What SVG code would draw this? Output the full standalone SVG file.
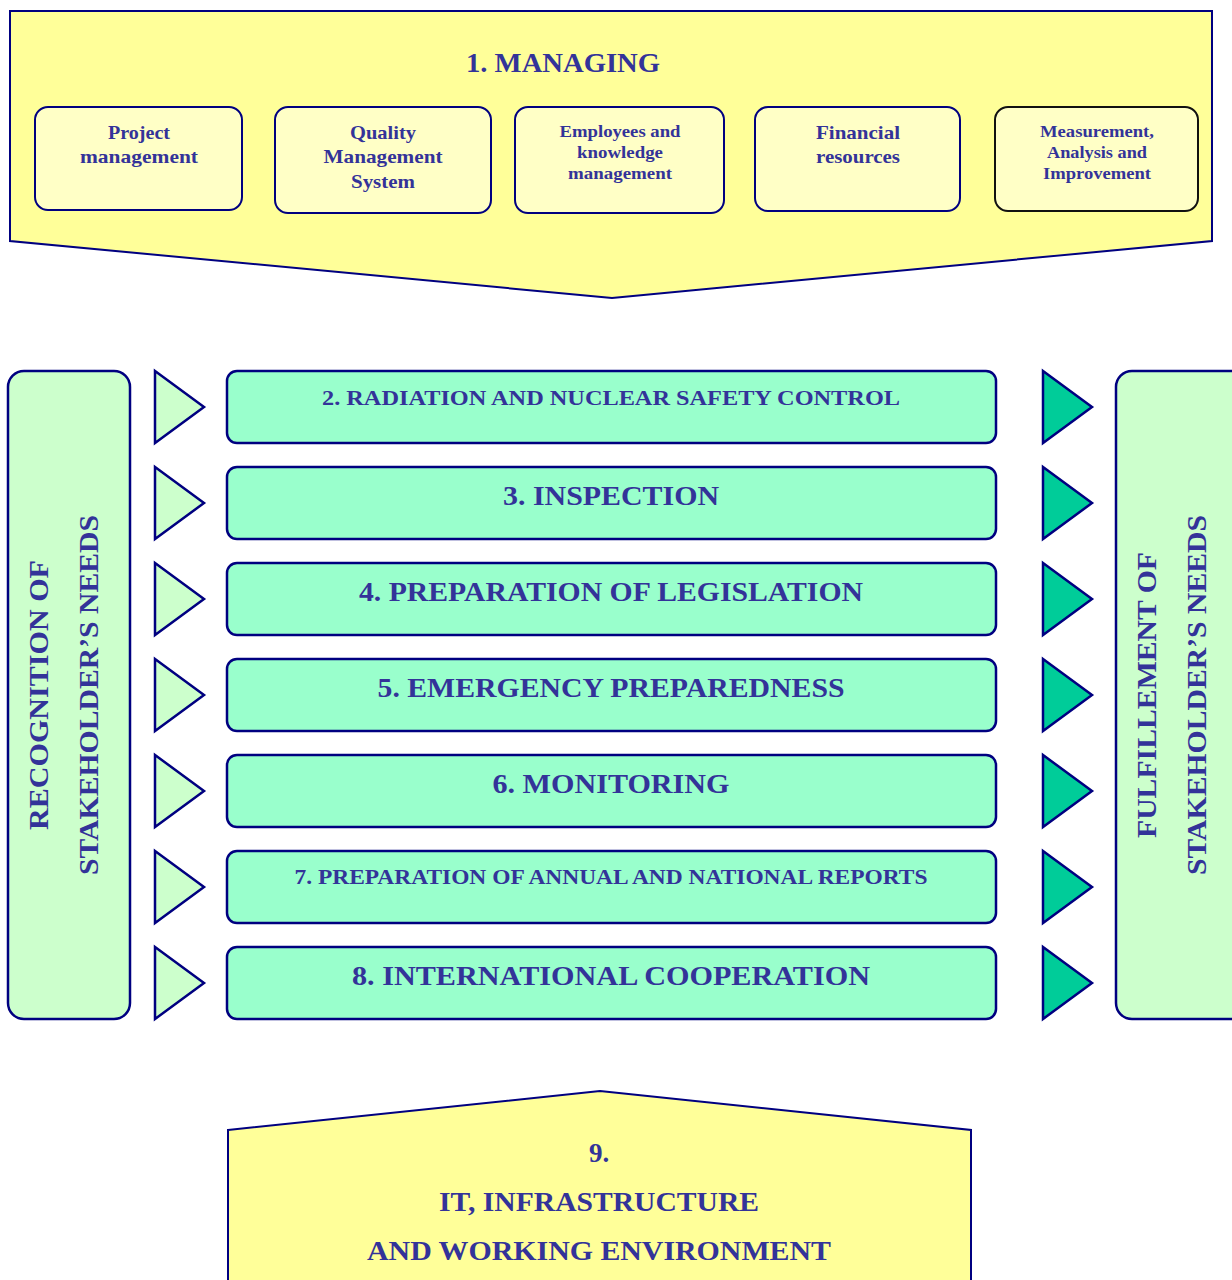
<svg xmlns="http://www.w3.org/2000/svg" width="1232" height="1280" viewBox="0 0 1232 1280">
<defs>
<style>
text{font-family:"Liberation Serif","Times New Roman",serif;font-weight:bold;fill:#333399;text-anchor:middle}
.big{stroke:#000080;stroke-width:2}
.sub{fill:#ffffc6;stroke:#000080;stroke-width:2}
.row{fill:#99ffcc;stroke:#000080;stroke-width:2.5}
.side{fill:#ccffcc;stroke:#000080;stroke-width:2.5}
.tl{fill:#ccffcc;stroke:#000080;stroke-width:2.5}
.tr{fill:#00cc99;stroke:#000080;stroke-width:2.5}
.s17{font-size:17px}.s19{font-size:19px}.s26{font-size:27px}
</style>
</defs>
<g id="managing">
<polygon class="big" fill="#ffff99" points="10,11 1212,11 1212,241 612,298 10,241"/>
<text x="563" y="72" class="s26" textLength="194" lengthAdjust="spacingAndGlyphs">1. MANAGING</text>
</g>
<g id="project-management">
<rect class="sub" x="35" y="107" width="207" height="103" rx="13"/>
<text x="139" y="139" class="s19" textLength="62" lengthAdjust="spacingAndGlyphs">Project</text>
<text x="139" y="163" class="s19" textLength="118" lengthAdjust="spacingAndGlyphs">management</text>
</g>
<g id="qms">
<rect class="sub" x="275" y="107" width="216" height="106" rx="13"/>
<text x="383" y="139" class="s19" textLength="66" lengthAdjust="spacingAndGlyphs">Quality</text>
<text x="383" y="163" class="s19" textLength="119" lengthAdjust="spacingAndGlyphs">Management</text>
<text x="383" y="188" class="s19" textLength="64" lengthAdjust="spacingAndGlyphs">System</text>
</g>
<g id="employees">
<rect class="sub" x="515" y="107" width="209" height="106" rx="13"/>
<text x="620" y="137" class="s17" textLength="121" lengthAdjust="spacingAndGlyphs">Employees and</text>
<text x="620" y="158" class="s17" textLength="86" lengthAdjust="spacingAndGlyphs">knowledge</text>
<text x="620" y="179" class="s17" textLength="104" lengthAdjust="spacingAndGlyphs">management</text>
</g>
<g id="financial">
<rect class="sub" x="755" y="107" width="205" height="104" rx="13"/>
<text x="858" y="139" class="s19" textLength="84" lengthAdjust="spacingAndGlyphs">Financial</text>
<text x="858" y="163" class="s19" textLength="84" lengthAdjust="spacingAndGlyphs">resources</text>
</g>
<g id="measurement">
<rect class="sub" x="995" y="107" width="203" height="104" rx="13" style="stroke:#111"/>
<text x="1097" y="137" class="s17" textLength="114" lengthAdjust="spacingAndGlyphs">Measurement,</text>
<text x="1097" y="158" class="s17" textLength="100" lengthAdjust="spacingAndGlyphs">Analysis and</text>
<text x="1097" y="179" class="s17" textLength="108" lengthAdjust="spacingAndGlyphs">Improvement</text>
</g>
<g id="recognition">
<rect class="side" x="8" y="371" width="122" height="648" rx="16"/>
<text class="s26" transform="translate(48,695) rotate(-90)" textLength="270" lengthAdjust="spacingAndGlyphs">RECOGNITION OF</text>
<text class="s26" transform="translate(98,695) rotate(-90)" textLength="360" lengthAdjust="spacingAndGlyphs">STAKEHOLDER’S NEEDS</text>
</g>
<g id="fulfillement">
<rect class="side" x="1116" y="371" width="130" height="648" rx="16"/>
<text class="s26" transform="translate(1156,695) rotate(-90)" textLength="286" lengthAdjust="spacingAndGlyphs">FULFILLEMENT OF</text>
<text class="s26" transform="translate(1206,695) rotate(-90)" textLength="360" lengthAdjust="spacingAndGlyphs">STAKEHOLDER’S NEEDS</text>
</g>
<g id="row2">
<rect class="row" x="227" y="371" width="769" height="72" rx="10"/>
<text x="611" y="405" style="font-size:21px" textLength="578" lengthAdjust="spacingAndGlyphs">2. RADIATION AND NUCLEAR SAFETY CONTROL</text>
</g>
<g id="row3">
<rect class="row" x="227" y="467" width="769" height="72" rx="10"/>
<text x="611" y="505" class="s26" textLength="216" lengthAdjust="spacingAndGlyphs">3. INSPECTION</text>
</g>
<g id="row4">
<rect class="row" x="227" y="563" width="769" height="72" rx="10"/>
<text x="611" y="601" class="s26" textLength="504" lengthAdjust="spacingAndGlyphs">4. PREPARATION OF LEGISLATION</text>
</g>
<g id="row5">
<rect class="row" x="227" y="659" width="769" height="72" rx="10"/>
<text x="611" y="697" class="s26" textLength="467" lengthAdjust="spacingAndGlyphs">5. EMERGENCY PREPAREDNESS</text>
</g>
<g id="row6">
<rect class="row" x="227" y="755" width="769" height="72" rx="10"/>
<text x="611" y="793" class="s26" textLength="237" lengthAdjust="spacingAndGlyphs">6. MONITORING</text>
</g>
<g id="row7">
<rect class="row" x="227" y="851" width="769" height="72" rx="10"/>
<text x="611" y="884" style="font-size:20px" textLength="633" lengthAdjust="spacingAndGlyphs">7. PREPARATION OF ANNUAL AND NATIONAL REPORTS</text>
</g>
<g id="row8">
<rect class="row" x="227" y="947" width="769" height="72" rx="10"/>
<text x="611" y="985" class="s26" textLength="518" lengthAdjust="spacingAndGlyphs">8. INTERNATIONAL COOPERATION</text>
</g>
<g id="connectors">
<polygon class="tl" points="155,371 204,407 155,443"/>
<polygon class="tl" points="155,467 204,503 155,539"/>
<polygon class="tl" points="155,563 204,599 155,635"/>
<polygon class="tl" points="155,659 204,695 155,731"/>
<polygon class="tl" points="155,755 204,791 155,827"/>
<polygon class="tl" points="155,851 204,887 155,923"/>
<polygon class="tl" points="155,947 204,983 155,1019"/>
<polygon class="tr" points="1043,371 1092,407 1043,443"/>
<polygon class="tr" points="1043,467 1092,503 1043,539"/>
<polygon class="tr" points="1043,563 1092,599 1043,635"/>
<polygon class="tr" points="1043,659 1092,695 1043,731"/>
<polygon class="tr" points="1043,755 1092,791 1043,827"/>
<polygon class="tr" points="1043,851 1092,887 1043,923"/>
<polygon class="tr" points="1043,947 1092,983 1043,1019"/>
</g>
<g id="it-infrastructure">
<polygon class="big" fill="#ffff99" points="228,1130 600,1091 971,1130 971,1290 228,1290"/>
<text x="599" y="1162" class="s26">9.</text>
<text x="599" y="1211" class="s26" textLength="320" lengthAdjust="spacingAndGlyphs">IT, INFRASTRUCTURE</text>
<text x="599" y="1260" class="s26" textLength="464" lengthAdjust="spacingAndGlyphs">AND WORKING ENVIRONMENT</text>
</g>
</svg>
